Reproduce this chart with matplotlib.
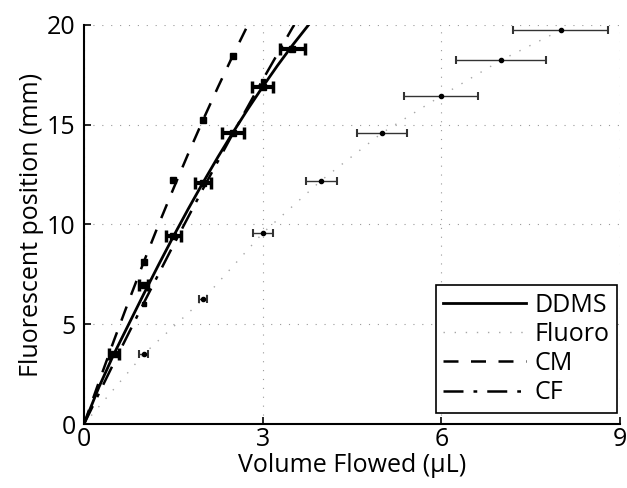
import matplotlib
matplotlib.use("Agg")
import matplotlib.pyplot as plt

plt.rcParams['font.family'] = ['Open Sans', 'DejaVu Sans']

# DDMS data (markers with x error bars)
ddms_x = [0.5, 1.0, 1.5, 2.0, 2.5, 3.0, 3.5]
ddms_y = [3.5, 6.95, 9.4, 12.1, 14.6, 16.9, 18.8]
ddms_xerr = [0.08, 0.08, 0.12, 0.14, 0.18, 0.18, 0.21]
# DDMS fitted curve
ddms_fit_x = [0, 0.25, 0.5, 0.75, 1.0, 1.25, 1.5, 1.75, 2.0, 2.25, 2.5, 2.75, 3.0, 3.25, 3.5, 3.77]
ddms_fit_y = [0, 1.85, 3.5, 5.0, 6.5, 7.97, 9.4, 10.78, 12.11, 13.39, 14.61, 15.78, 16.9, 17.97, 18.98, 20.0]

# Fluoro data
fluoro_x = [0, 1.0, 2.0, 3.0, 3.98, 5.0, 6.0, 7.0, 8.0]
fluoro_y = [0, 3.5, 6.25, 9.57, 12.2, 14.58, 16.45, 18.23, 19.73]
fluoro_xerr = [0, 0.07, 0.07, 0.17, 0.26, 0.42, 0.62, 0.75, 0.8]

# CM model
cm_x = [0, 0.25, 0.5, 0.75, 1.0, 1.25, 1.5, 1.75, 2.0, 2.25, 2.5, 2.75]
cm_y = [0, 2.11, 4.17, 6.16, 8.1, 9.98, 11.79, 13.55, 15.25, 16.89, 18.47, 19.99]
cm_mx = [1.0, 1.5, 2.0, 2.5]
cm_my = [8.1, 12.25, 15.25, 18.45]

# CF model
cf_x = [0, 0.5, 1.0, 1.5, 2.0, 2.5, 3.0, 3.5, 3.53]
cf_y = [0, 3.06, 6.05, 8.96, 11.8, 14.56, 17.25, 19.86, 20.0]
cf_mx = [1.0, 3.0]
cf_my = [6.03, 17.2]

xticks = [0, 3, 6, 9]
yticks = [0, 5, 10, 15, 20]

fig = plt.figure(figsize=(6.27, 4.88), dpi=100)
ax = fig.add_axes([0.134, 0.131, 0.855, 0.818])

fs = 18

l1, = ax.plot(ddms_fit_x, ddms_fit_y, '-', color='black', lw=2.0, label='DDMS')
ax.errorbar(ddms_x, ddms_y, xerr=ddms_xerr, fmt='s', color='black', ms=5,
            elinewidth=3, capsize=4, capthick=2.5)
l2, = ax.plot(fluoro_x, fluoro_y, linestyle=(0, (1, 7)), color='0.65', lw=1.0, label='Fluoro')
ax.errorbar(fluoro_x[1:], fluoro_y[1:], xerr=fluoro_xerr[1:], fmt='o', color='black',
            ms=3, elinewidth=1.0, capsize=3, capthick=1.5, ecolor='0.2')
l3, = ax.plot(cm_x, cm_y, linestyle=(0, (6, 5)), color='black', lw=1.8, label='CM')
ax.plot(cm_mx, cm_my, 's', color='black', ms=4)
l4, = ax.plot(cf_x, cf_y, linestyle=(0, (8, 4, 1.5, 4)), color='black', lw=1.8, label='CF')
ax.plot(cf_mx, cf_my, 's', color='black', ms=3.5)

ax.set_xlim(0, 9)
ax.set_ylim(0, 20)
ax.set_xticks(xticks)
ax.set_yticks(yticks)
ax.tick_params(direction='in', length=5, width=1.2, labelsize=fs)
ax.tick_params(axis='y', pad=6)
ax.tick_params(axis='x', pad=2)
ax.grid(True, linestyle=(0, (1, 7)), color='0.6', lw=0.8)
for s in ['top', 'right']:
    ax.spines[s].set_visible(False)
for s in ['left', 'bottom']:
    ax.spines[s].set_linewidth(1.5)

ax.set_xlabel('Volume Flowed (μL)', fontsize=fs, labelpad=1)
ax.set_ylabel('Fluorescent position (mm)', fontsize=fs, labelpad=2)

leg = ax.legend(handles=[l1, l2, l3, l4], loc='lower right', bbox_to_anchor=(0.994, 0.028),
                fontsize=fs, frameon=True, fancybox=False, edgecolor='black', framealpha=1,
                handlelength=3.3, handletextpad=0.35, labelspacing=0.17, borderpad=0.3,
                borderaxespad=0)
leg.get_frame().set_linewidth(1.2)

fig.savefig('out.png', dpi=100)
